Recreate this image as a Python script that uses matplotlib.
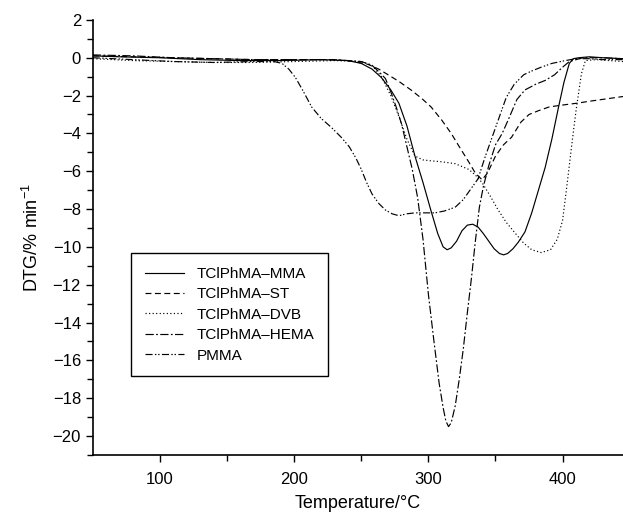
import matplotlib
matplotlib.use("Agg")
import matplotlib.pyplot as plt
from matplotlib.ticker import MultipleLocator, FixedLocator

plt.rcParams['font.family'] = ['Liberation Sans', 'DejaVu Sans']
plt.rcParams['mathtext.default'] = 'regular'

labels = ["TClPhMA–MMA", "TClPhMA–ST", "TClPhMA–DVB", "TClPhMA–HEMA", "PMMA"]

mma_x = [50, 70, 100, 130, 160, 190, 220, 240, 250, 258, 265, 272, 278, 284, 290, 296, 302, 307, 311, 314, 317, 321, 325, 329, 333, 337, 341, 345, 349, 353, 356, 359, 363, 367, 372, 377, 382, 387, 392, 397, 401, 405, 408, 412, 420, 430, 445]
mma_y = [0.1, 0.05, 0, -0.1, -0.15, -0.15, -0.1, -0.15, -0.3, -0.6, -1.05, -1.7, -2.4, -3.6, -5.2, -6.6, -8.1, -9.3, -10.0, -10.15, -10.05, -9.7, -9.15, -8.85, -8.8, -8.95, -9.3, -9.7, -10.1, -10.35, -10.42, -10.35, -10.1, -9.75, -9.2, -8.2, -7.0, -5.8, -4.3, -2.6, -1.3, -0.3, -0.05, 0.0, 0.05, 0.0, -0.05]

st_x = [50, 80, 110, 140, 170, 200, 230, 245, 255, 263, 270, 278, 287, 295, 302, 310, 317, 323, 330, 335, 340, 344, 350, 356, 362, 369, 375, 382, 390, 400, 411, 420, 430, 445]
st_y = [0.1, 0.05, 0, -0.05, -0.1, -0.1, -0.1, -0.2, -0.35, -0.6, -0.9, -1.25, -1.7, -2.15, -2.6, -3.3, -4.0, -4.7, -5.5, -6.1, -6.45, -6.1, -5.2, -4.6, -4.2, -3.4, -3.0, -2.8, -2.6, -2.5, -2.4, -2.3, -2.2, -2.05]

dvb_x = [50, 80, 110, 140, 170, 200, 230, 250, 258, 265, 272, 278, 284, 290, 296, 302, 310, 320, 330, 335, 340, 346, 352, 358, 365, 371, 377, 384, 391, 396, 400, 404, 407, 410, 414, 417, 425, 435, 445]
dvb_y = [-0.05, -0.15, -0.2, -0.25, -0.25, -0.2, -0.15, -0.2, -0.4, -1.0, -2.0, -3.1, -4.3, -5.2, -5.4, -5.45, -5.5, -5.6, -5.9, -6.2, -6.6, -7.3, -8.05, -8.7, -9.3, -9.8, -10.15, -10.3, -10.15, -9.6, -8.6, -6.3, -4.5, -2.8, -0.85, -0.15, -0.1, -0.15, -0.2]

hema_x = [50, 80, 110, 140, 170, 200, 230, 250, 258, 264, 268, 272, 276, 280, 284, 288, 292, 296, 300, 304, 308, 311, 313, 315, 317, 320, 323, 326, 329, 332, 335, 338, 341, 345, 350, 355, 360, 366, 372, 380, 387, 394, 400, 405, 415, 430, 445]
hema_y = [0.15, 0.1, 0.0, -0.05, -0.1, -0.1, -0.1, -0.2, -0.4, -0.8, -1.1, -1.8, -2.6, -3.5, -4.7, -5.9, -7.4, -9.6, -12.5, -14.9, -17.2, -18.5, -19.2, -19.5, -19.3, -18.4, -17.0, -15.4, -13.5, -11.7, -9.7, -7.9, -6.8, -5.7, -4.6, -4.0, -3.2, -2.2, -1.7, -1.4, -1.2, -0.9, -0.5, -0.2, 0.0, 0.0, -0.05]

pmma_x = [50, 80, 110, 140, 170, 185, 191, 196, 201, 207, 213, 220, 228, 235, 241, 246, 250, 254, 258, 263, 268, 273, 278, 284, 290, 297, 305, 312, 320, 326, 331, 337, 342, 347, 352, 358, 364, 371, 377, 384, 392, 402, 410, 420, 430, 445]
pmma_y = [0.0, -0.1, -0.2, -0.25, -0.2, -0.2, -0.3, -0.6, -1.05, -1.8, -2.6, -3.2, -3.7, -4.2, -4.7, -5.3, -5.9, -6.6, -7.2, -7.7, -8.05, -8.25, -8.35, -8.25, -8.2, -8.2, -8.2, -8.1, -7.9, -7.5, -7.0, -6.4, -5.3, -4.3, -3.3, -2.1, -1.4, -0.9, -0.7, -0.5, -0.3, -0.15, -0.05, -0.05, -0.1, -0.1]

series = [(mma_x, mma_y), (st_x, st_y), (dvb_x, dvb_y), (hema_x, hema_y), (pmma_x, pmma_y)]
styles = ['-', (0, (5, 3)), (0, (1, 2)), (0, (7, 2, 1.5, 2)), (0, (6, 2, 1.2, 1.5, 1.2, 2))]

fig = plt.figure(figsize=(6.23, 5.24), dpi=100)
ax = fig.add_axes([0.149, 0.1317, 0.851, 0.8303])

for (xs, ys), ls, lab in zip(series, styles, labels):
    ax.plot(xs, ys, color='black', lw=0.85, linestyle=ls, label=lab)

ax.set_xlim(50, 445)
ax.set_ylim(-21, 2)
ax.spines['top'].set_visible(False)
ax.spines['right'].set_visible(False)
ax.spines['left'].set_linewidth(1.2)
ax.spines['bottom'].set_linewidth(1.2)

ax.xaxis.set_major_locator(FixedLocator([100, 200, 300, 400]))
ax.xaxis.set_minor_locator(FixedLocator([150, 250, 350]))
ax.yaxis.set_major_locator(MultipleLocator(2))
ax.yaxis.set_minor_locator(MultipleLocator(1))
ax.tick_params(which='both', direction='out', width=1.0, labelsize=12)
ax.tick_params(which='major', length=5)
ax.tick_params(which='minor', length=4)
ax.tick_params(axis='x', pad=7)

ax.set_xlabel("Temperature/°C", fontsize=13, labelpad=6)
ax.set_ylabel("DTG/% min$^{-1}$", fontsize=13, labelpad=8)

leg = ax.legend(loc='upper left', bbox_to_anchor=(0.072, 0.464), borderaxespad=0,
                fancybox=False, edgecolor='black', fontsize=11, handlelength=2.6,
                labelspacing=0.42, borderpad=0.9, framealpha=1)
leg.get_frame().set_linewidth(1.0)

fig.savefig("out.png", dpi=100)
